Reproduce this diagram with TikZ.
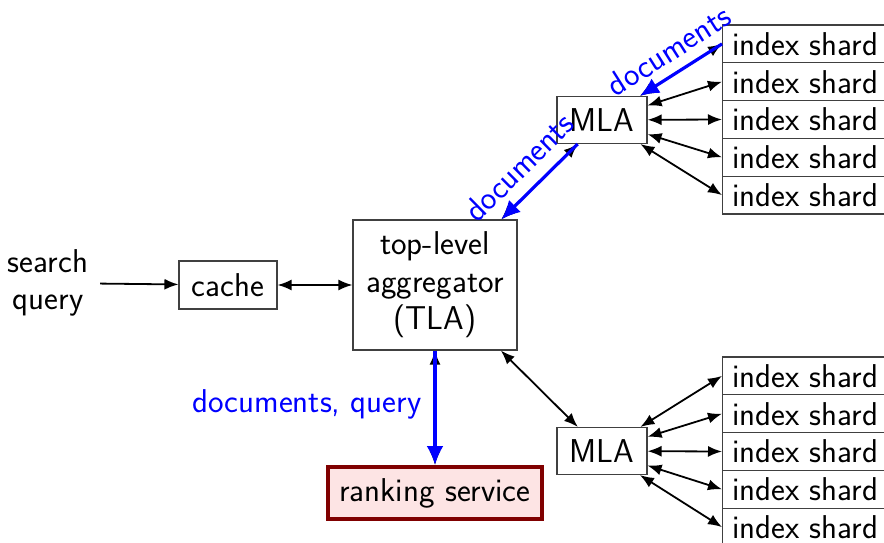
\documentclass[tikz,border=0pt]{standalone}
\usepackage{fontspec}
\usetikzlibrary{arrows.meta}
\definecolor{rankfill}{RGB}{253,228,228}
\definecolor{rankedge}{RGB}{128,0,0}
\begin{document}
\begin{tikzpicture}[x=1pt,y=-1pt,
  font=\sffamily\fontsize{33}{37.5}\selectfont,
  box/.style={draw=black!75,line width=1.1pt,inner sep=0pt},
  shardbox/.style={box,anchor=west,minimum width=165,minimum height=37.8},
  mlabox/.style={box,minimum width=90,minimum height=47},
  link/.style={line width=1.8pt,{Latex[length=14pt,width=11pt]}-{Latex[length=14pt,width=11pt]}},
  doclink/.style={blue,line width=3.2pt,-{Latex[length=19pt,width=17pt]}},
  doclabel/.style={text=blue}]
\useasboundingbox (0,0) rectangle (884,543);
\clip (0,0) rectangle (884,543);

% entry point and cache
\node[align=center,inner xsep=12pt] (query) at (48,283) {search\\query};
\node[box,minimum width=98,minimum height=48] (cache) at (228,285) {cache};
\node[box,align=center,minimum width=164,minimum height=130] (tla) at (435,285)
  {top-level\\aggregator\\(TLA)};

% mid-level aggregators
\node[mlabox] (mlaA) at (602,120) {MLA};
\node[mlabox] (mlaB) at (602,451) {MLA};

% ranking service
\node[draw=rankedge,fill=rankfill,line width=4pt,minimum width=214,minimum height=52,inner sep=0pt]
  (rank) at (435,493) {ranking service};

% index shards
\foreach \i in {1,...,5}{
  \node[shardbox] (sA\i) at (722,{25+37.8*(\i-0.5)}) {index shard};
  \node[shardbox] (sB\i) at (722,{357+37.8*(\i-0.5)}) {index shard};
}

% request path
\draw[line width=1.8pt,-{Latex[length=14pt,width=11pt]}] (query) -- (cache);
\draw[link] (cache) -- (tla);
\draw[link] (tla) -- (mlaA);
\draw[link] (tla) -- (mlaB);
\draw[link] (tla) -- (rank);
\foreach \i in {1,...,5}{
  \draw[link] (mlaA) -- (sA\i.west);
  \draw[link] (mlaB) -- (sB\i.west);
}

% documents flowing back
\draw[doclink] (sA1.west) -- (mlaA);
\draw[doclink] (mlaA) -- (tla);
\draw[doclink] (tla) -- (rank);
\path (tla) -- node[doclabel,sloped,above=10pt,pos=0.46] {documents} (mlaA);
\path (mlaA) -- node[doclabel,sloped,above=8pt,pos=0.5] {documents} (sA1.west);
\path (tla.south) -- node[doclabel,left=10pt,pos=0.47] {documents, query} (rank.north);
\end{tikzpicture}
\end{document}
